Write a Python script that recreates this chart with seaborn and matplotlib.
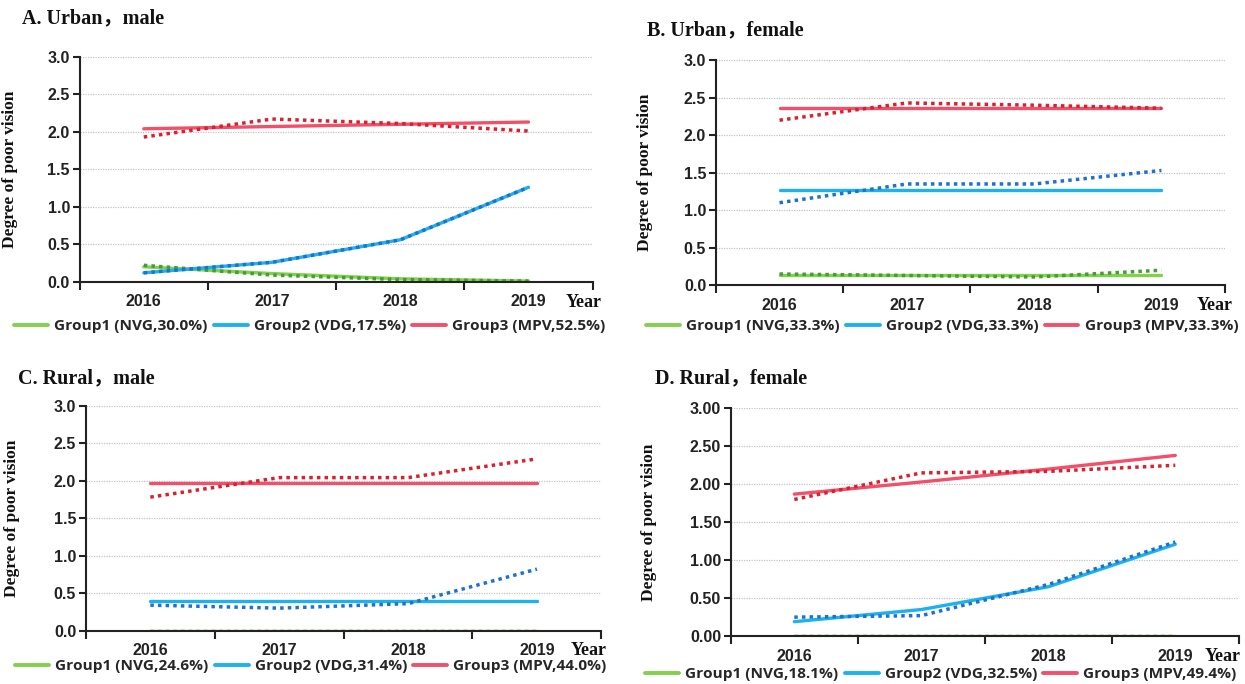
import pandas as pd
import seaborn as sns
import matplotlib.pyplot as plt
from matplotlib.lines import Line2D

# years on the x axis
years = ["2016", "2017", "2018", "2019"]
groups = ["Group1", "Group2", "Group3"]

# solid lines (fitted trajectories), one list per group
a_fit = [[0.20, 0.11, 0.04, 0.01], [0.12, 0.26, 0.56, 1.26], [2.04, 2.07, 2.10, 2.13]]
b_fit = [[0.13, 0.13, 0.13, 0.13], [1.27, 1.27, 1.27, 1.27], [2.36, 2.36, 2.36, 2.36]]
c_fit = [[0.00, 0.00, 0.00, 0.00], [0.40, 0.40, 0.40, 0.40], [1.97, 1.97, 1.97, 1.97]]
d_fit = [[0.00, 0.00, 0.00, 0.00], [0.19, 0.35, 0.65, 1.21], [1.87, 2.03, 2.20, 2.38]]

# dotted lines (observed values)
a_obs = [[0.22, 0.09, 0.03, 0.01], [0.12, 0.26, 0.56, 1.26], [1.93, 2.17, 2.11, 2.01]]
b_obs = [[0.15, 0.13, 0.11, 0.20], [1.10, 1.35, 1.35, 1.53], [2.20, 2.43, 2.40, 2.36]]
c_obs = [[0.00, 0.00, 0.00, 0.00], [0.34, 0.30, 0.36, 0.82], [1.78, 2.04, 2.04, 2.29]]
d_obs = [[0.00, 0.00, 0.00, 0.00], [0.25, 0.27, 0.68, 1.24], [1.80, 2.15, 2.17, 2.25]]

titles = ["A. Urban，male", "B. Urban，female", "C. Rural，male", "D. Rural，female"]
a_labels = ["Group1 (NVG,30.0%)", "Group2 (VDG,17.5%)", "Group3 (MPV,52.5%)"]
b_labels = ["Group1 (NVG,33.3%)", "Group2 (VDG,33.3%)", "Group3 (MPV,33.3%)"]
c_labels = ["Group1 (NVG,24.6%)", "Group2 (VDG,31.4%)", "Group3 (MPV,44.0%)"]
d_labels = ["Group1 (NVG,18.1%)", "Group2 (VDG,32.5%)", "Group3 (MPV,49.4%)"]

solid_colors = ["#84d04c", "#1cb2ef", "#f2506a"]
dot_colors = ["#3f9e34", "#1f70cf", "#dc1f2c"]

sns.set_theme(style="white")
plt.rcParams['font.family'] = ['DejaVu Sans']

serif = ['Liberation Serif', 'Noto Sans CJK SC']
tickfont = ['Liberation Sans Narrow', 'Liberation Sans', 'DejaVu Sans']
legfont = ['Open Sans', 'DejaVu Sans']


def long_df(values):
    rows = []
    for g, vals in zip(groups, values):
        for i, v in enumerate(vals):
            rows.append({"x": i, "value": v, "group": g})
    return pd.DataFrame(rows)


fig = plt.figure(figsize=(12.45, 6.84), dpi=100)

panels = [
    # axes rect, fit, obs, labels, title pos, ylabel x, legend center, tick format, Year x
    ([0.064, 0.588, 0.412, 0.329], a_fit, a_obs, a_labels, (22, 18), 18, (310, 326), "{:.1f}", 3.43),
    ([0.575, 0.583, 0.409, 0.329], b_fit, b_obs, b_labels, (647, 30), 653, (942, 326), "{:.1f}", 3.42),
    ([0.069, 0.078, 0.414, 0.329], c_fit, c_obs, c_labels, (18, 378), 20, (311, 666), "{:.1f}", 3.4),
    ([0.587, 0.070, 0.408, 0.333], d_fit, d_obs, d_labels, (655, 378), 657, (941, 674), "{:.2f}", 3.37),
]

W, H = 1245, 684

for k, (rect, fit, obs, labels, tpos, ylx, lpos, fmt, yearx) in enumerate(panels):
    ax = fig.add_axes(rect)

    sns.lineplot(data=long_df(fit), x="x", y="value", hue="group",
                 palette=solid_colors, linewidth=2.4, legend=False, ax=ax)
    sns.lineplot(data=long_df(obs), x="x", y="value", hue="group",
                 palette=dot_colors, linewidth=2.5, legend=False, ax=ax,
                 linestyle=(0, (1, 1.2)))

    ax.set_xlim(-0.5, 3.5)
    ax.set_ylim(0, 3.0)
    yt = [0, 0.5, 1.0, 1.5, 2.0, 2.5, 3.0]
    ax.set_yticks(yt)
    ax.set_yticklabels([fmt.format(v) for v in yt], fontfamily=tickfont,
                       fontweight='bold', fontsize=11.5, color='#222222')
    for v in yt[1:]:
        ax.axhline(v, color='#c4c4c4', linestyle=(0, (1, 1)), linewidth=0.9, zorder=0)

    # tick marks at category boundaries, labels at the middle
    ax.set_xticks([-0.5, 0.5, 1.5, 2.5, 3.5])
    ax.set_xticklabels([])
    ax.set_xticks([0, 1, 2, 3], minor=True)
    ax.set_xticklabels(years, minor=True, fontfamily=tickfont,
                       fontweight='bold', fontsize=11.5, color='#222222')
    ax.tick_params(axis='x', which='major', direction='out', length=6, width=1.5,
                   color='#222222', bottom=True)
    ax.tick_params(axis='x', which='minor', length=0, pad=9)
    ax.tick_params(axis='y', direction='out', length=5, width=1.5,
                   color='#222222', left=True, pad=2)

    for s in ['top', 'right']:
        ax.spines[s].set_visible(False)
    for s in ['left', 'bottom']:
        ax.spines[s].set_color('#222222')
        ax.spines[s].set_linewidth(1.5)

    ax.set_xlabel("")
    ax.set_ylabel("Degree of poor vision", fontfamily=serif, fontweight='bold',
                  fontsize=12.5, color='#111111')
    axl = rect[0] * W
    ax.yaxis.set_label_coords((ylx - axl) / (rect[2] * W), 0.5)

    ax.text(yearx, -0.09, "Year", transform=ax.get_xaxis_transform(),
            ha='center', va='center', fontfamily=serif, fontweight='bold',
            fontsize=13, color='#111111')

    fig.text(tpos[0] / W, 1 - tpos[1] / H, titles[k], ha='left', va='center',
             fontfamily=serif, fontweight='bold', fontsize=14.5, color='#111111')

    handles = [Line2D([], [], color=c, linewidth=2.8) for c in solid_colors]
    fig.legend(handles, labels, loc='center',
               bbox_to_anchor=(lpos[0] / W, 1 - lpos[1] / H), ncol=3,
               frameon=False, handlelength=2.2, handletextpad=0.4,
               columnspacing=0.4,
               prop={'family': legfont, 'size': 11.1, 'weight': 'bold'})

fig.savefig("out.png", dpi=100)
